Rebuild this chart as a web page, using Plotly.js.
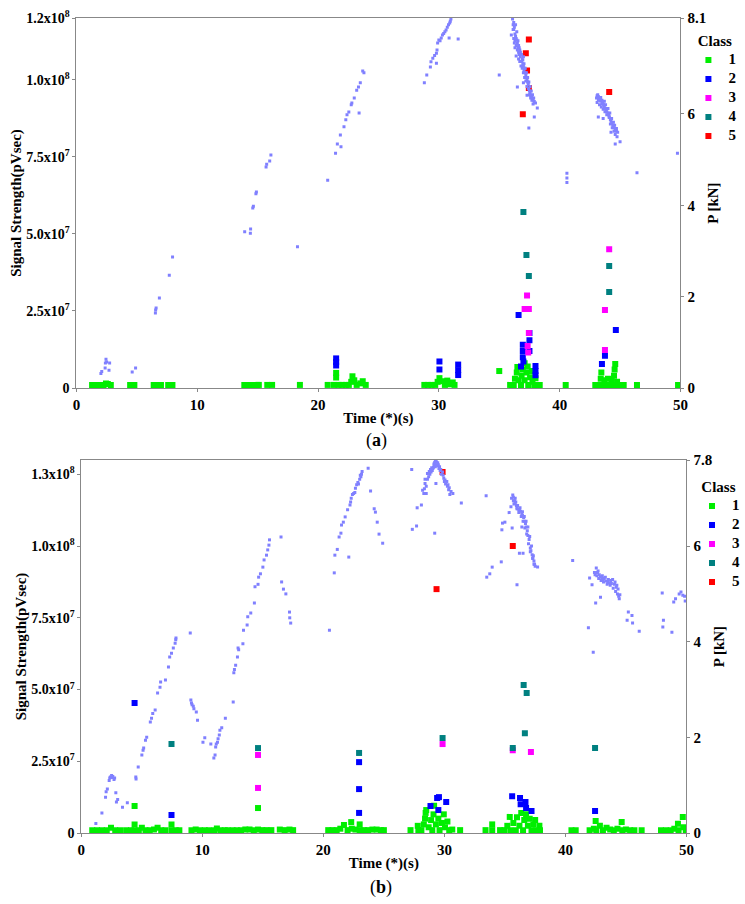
<!DOCTYPE html>
<html>
<head>
<meta charset="utf-8">
<script src="https://cdn.plot.ly/plotly-3.0.1.min.js"></script>
<style>html,body{margin:0;padding:0;background:#fff;}#chart{width:745px;height:904px;}</style>
</head>
<body>
<div id="chart"></div>
<script>
// ---------- Panel (a) ----------
const aLoadT = [2.03,2.1,2.38,2.4,2.45,2.5,2.7,2.75,4.62,4.9,6.54,6.56,6.6,6.87,7.69,7.96,13.93,14.4,14.42,14.6,14.65,14.86,14.9,15.7,15.75,16.0,16.1,18.3,20.8,
 21.45,21.6,21.85,21.9,22.15,22.3,22.4,22.55,22.75,22.8,23.0,23.2,23.35,23.4,23.5,23.7,23.8,
 28.8,29.0,29.3,29.35,29.5,29.65,29.8,29.8,29.85,29.9,30.0,30.1,30.2,30.3,30.4,30.5,30.6,30.7,30.8,30.85,30.9,30.95,31.0,31.6,
 35.0,36.0,36.1,36.15,36.2,36.2,36.25,36.3,36.3,36.35,36.4,36.4,36.45,36.5,36.5,36.55,36.6,36.6,36.65,36.7,36.75,36.8,36.85,36.9,36.95,37.0,37.0,37.05,37.1,37.15,37.2,37.25,37.3,37.35,37.4,37.45,37.5,37.55,37.6,37.7,37.75,37.8,37.9,38.0,38.15,36.5,37.0,37.3,37.45,37.9,
 36.15,36.2,36.25,36.3,36.35,36.4,36.45,36.55,36.6,36.65,36.7,36.75,36.8,36.85,36.9,36.95,37.0,37.05,37.1,37.15,37.2,37.25,37.3,37.35,37.4,37.45,37.5,37.55,37.6,37.65,37.7,37.75,37.8,37.85,
 40.6,40.6,40.6,
 43.05,43.1,43.2,43.25,43.3,43.35,43.4,43.5,43.55,43.6,43.65,43.7,43.8,43.85,43.9,44.0,44.05,44.1,44.2,44.25,44.3,44.4,44.45,44.5,44.6,44.65,44.7,44.8,43.2,43.6,44.25,44.6,45.0,
 43.1,43.15,43.2,43.3,43.4,43.45,43.5,43.6,43.7,43.75,43.8,43.9,44.0,44.1,44.15,44.2,44.3,44.35,44.45,44.5,44.55,44.6,44.7,44.75,
 46.4,49.75];
const aLoadP = [0.32,0.36,0.44,0.55,0.63,0.57,0.39,0.55,0.35,0.44,1.64,1.71,1.75,1.97,2.47,2.87,3.42,3.39,3.48,3.94,3.98,4.25,4.29,4.84,4.9,4.97,5.1,3.09,4.55,
 5.14,5.34,5.54,5.28,5.72,5.87,5.98,6.04,6.2,6.24,6.35,6.52,6.59,6.02,6.68,6.94,6.9,
 6.68,6.85,7.03,7.14,7.22,7.28,7.11,7.33,7.4,7.55,7.62,7.6,7.66,7.73,7.76,7.8,7.84,7.9,7.95,7.66,7.99,8.03,8.08,7.64,
 6.85,7.73,8.08,7.95,8.0,7.85,7.9,7.75,7.6,7.7,7.5,7.27,7.62,7.4,7.55,7.45,7.35,7.5,7.3,7.4,7.25,7.3,7.15,7.2,7.1,7.25,7.05,6.95,7.0,6.9,6.85,6.8,6.75,6.7,6.65,6.55,6.5,6.45,6.4,6.38,6.33,6.3,6.27,6.24,6.13,6.59,6.68,6.41,5.69,5.93,
 7.85,7.65,7.55,7.45,7.95,7.65,7.8,7.6,7.2,7.45,7.15,7.35,7.05,7.3,7.0,7.18,6.9,7.1,6.8,7.0,6.72,6.9,6.6,6.8,6.55,6.7,6.42,6.6,6.35,6.5,6.3,6.42,6.22,6.35,
 4.5,4.6,4.7,
 6.35,6.4,6.38,6.33,6.35,6.3,6.28,6.3,6.25,6.22,6.2,6.15,6.12,6.08,6.05,6.02,5.98,5.95,5.88,5.85,5.8,5.76,5.73,5.7,5.68,5.65,5.62,5.6,5.93,5.9,5.6,5.34,5.39,
 6.25,6.42,6.3,6.2,6.36,6.15,6.22,6.1,6.28,6.05,6.2,5.98,6.12,5.92,6.02,5.78,5.9,5.7,5.82,5.62,5.75,5.55,5.68,5.5,
 4.71,5.14];

const aC1T = [1.3,1.55,1.95,2.25,2.45,2.6,2.85,4.45,4.8,6.4,6.75,7.0,7.6,7.95,13.9,14.25,14.6,14.95,15.1,15.8,16.2,18.5,20.8,
 21.3,21.5,21.5,21.7,22.0,22.3,22.55,22.75,22.85,23.0,23.2,23.5,23.7,23.95,
 28.8,29.1,29.4,29.7,29.9,30.05,30.3,30.5,30.7,30.9,31.15,31.3,35.0,
 35.9,36.2,36.3,36.45,36.5,36.6,36.8,36.85,36.95,37.1,37.1,37.25,37.35,37.4,37.55,37.7,37.75,37.9,38.0,38.2,38.35,40.5,
 42.95,43.25,43.4,43.45,43.5,43.7,43.8,44.0,44.05,44.3,44.35,44.5,44.55,44.6,44.75,44.8,45.1,45.3,46.4,49.8];
const aC1S = [1e6,1e6,1e6,1e6,1.5e6,1.3e6,1e6,1e6,1e6,1e6,1e6,1e6,1e6,1e6,1e6,1e6,1e6,1e6,1e6,1e6,1e6,1e6,1e6,
 1e6,3.4e6,4.9e6,1e6,1e6,1e6,1e6,2e6,3.8e6,2.5e6,1e6,1.5e6,2.2e6,1e6,
 1e6,1e6,1e6,1e6,2e6,3.2e6,2.2e6,1e6,2.4e6,1.2e6,1.8e6,1e6,5.5e6,
 1e6,1e6,3e6,5e6,6.8e6,2.5e6,1e6,4e6,6e6,8e6,2.5e6,5e6,7e6,1e6,3.5e6,5.5e6,2e6,1e6,3.2e6,1e6,1e6,1e6,
 1e6,1e6,3e6,5e6,1e6,2.5e6,1e6,3e6,1e6,2.5e6,1e6,4e6,6e6,7.8e6,2e6,1e6,1e6,1e6,1e6,1e6];
const aC2T = [21.5,21.5,21.5,30.05,30.05,31.6,31.6,31.6,36.6,36.95,36.95,36.95,37.0,36.8,37.5,37.5,37.5,38.0,38.0,38.0,43.5,43.75,44.65];
const aC2S = [9.6e6,8.4e6,7.3e6,8.6e6,6.0e6,7.6e6,5.8e6,4.2e6,2.37e7,1.4e7,1.2e7,1.0e7,8.6e6,7.0e6,1.78e7,1.55e7,1.2e7,7.1e6,5.5e6,4.1e6,7.8e6,1.05e7,1.88e7];
const aC3T = [37.3,37.1,37.45,37.45,37.35,37.4,44.1,43.75,43.75];
const aC3S = [3.0e7,2.56e7,2.56e7,1.78e7,1.36e7,1.15e7,4.5e7,2.53e7,1.23e7];
const aC4T = [37.0,37.25,37.45,44.1,44.1];
const aC4S = [5.71e7,4.31e7,3.63e7,3.96e7,3.11e7];
const aC5T = [37.45,37.2,37.3,37.45,36.95,44.1];
const aC5S = [1.13e8,1.086e8,1.03e8,9.73e7,8.88e7,9.6e7];

// ---------- Panel (b) ----------
const bLoadT = [1.2,1.7,2.0,2.05,2.15,2.3,2.35,2.4,2.5,2.55,2.6,2.7,2.75,2.85,2.9,3.0,3.4,3.8,
 4.5,4.52,4.7,5.0,5.1,5.15,5.3,5.4,5.7,5.8,5.9,6.1,6.3,6.5,6.55,6.95,7.2,7.3,7.45,7.6,7.75,7.8,7.82,
 9.0,9.05,9.1,9.15,9.25,9.3,9.5,9.6,10.05,10.2,10.7,10.95,11.05,11.1,11.15,11.25,11.3,11.4,11.45,11.6,11.9,
 12.55,12.6,12.65,12.75,12.9,12.95,13.0,13.35,13.4,13.7,13.75,14.0,14.3,14.35,14.6,14.65,14.8,15.0,15.1,15.3,15.4,15.5,15.55,
 16.5,16.55,16.7,16.9,17.2,17.22,17.3,
 20.5,20.9,20.95,21.15,21.3,21.45,21.5,21.65,21.8,22.0,22.2,22.3,22.5,22.65,22.9,23.0,23.15,23.2,23.7,23.9,24.2,24.3,24.45,24.6,24.9,
 22.1,22.25,22.4,22.6,22.75,22.85,23.05,23.1,
 27.3,27.35,27.7,27.75,28.1,28.3,28.4,28.4,28.5,28.6,28.75,28.85,28.95,29.1,29.15,29.2,29.25,29.3,29.35,29.45,29.5,29.6,29.7,29.85,29.95,30.05,30.2,30.3,30.4,30.55,30.7,31.4,29.2,29.3,
 28.2,28.35,28.5,28.6,28.7,28.8,28.9,29.0,29.05,29.15,29.25,29.35,29.45,29.55,29.65,29.75,29.9,30.0,30.1,30.25,30.35,30.45,
 33.45,33.5,33.75,33.95,34.7,34.75,34.8,35.0,35.35,35.5,35.55,35.65,35.7,35.8,35.85,35.95,36.0,36.1,36.2,36.3,36.4,36.45,36.55,36.6,36.7,36.75,36.85,36.9,37.0,37.1,37.15,37.25,37.3,37.4,37.45,37.5,37.7,36.0,36.4,36.5,36.2,
 35.6,35.7,35.75,35.85,35.9,36.0,36.05,36.15,36.25,36.35,36.45,36.5,36.6,36.65,36.75,36.8,36.9,36.95,37.05,37.1,37.2,37.3,37.35,37.4,
 40.6,41.9,42.0,42.2,42.45,42.55,42.7,42.8,42.9,43.0,43.1,43.2,43.35,43.5,43.6,43.75,43.9,44.05,44.2,44.3,44.5,42.9,42.5,44.35,45.1,45.2,45.5,45.55,46.1,
 42.3,42.4,42.6,42.65,42.75,42.95,43.05,43.15,43.3,43.45,43.55,43.7,43.8,43.95,44.1,44.15,44.25,44.4,44.45,
 48.0,48.1,48.05,48.8,48.95,49.1,49.4,49.55,49.7,49.85,49.9];
const bLoadP = [0.2,0.42,0.75,0.86,0.92,1.1,1.15,1.17,1.2,1.16,1.18,1.12,1.15,0.84,0.65,0.7,0.54,0.63,
 1.17,1.13,1.38,1.63,1.73,1.78,1.94,2.0,2.32,2.4,2.5,2.57,2.93,3.05,3.16,3.2,3.47,3.68,3.76,3.87,3.97,4.04,4.08,4.18,
 2.78,2.72,2.68,2.65,2.6,2.53,2.36,1.9,1.99,1.86,1.57,1.63,1.8,1.86,1.9,1.97,2.05,2.15,2.2,2.4,2.74,
 3.35,3.42,3.51,3.68,3.87,3.83,3.96,4.24,4.35,4.52,4.6,4.81,5.15,5.2,5.35,5.42,5.56,5.71,5.81,5.92,6.02,6.13,6.19,
 5.25,5.1,5.0,4.62,4.5,4.39,4.24,
 5.44,5.81,5.93,6.19,6.27,6.44,6.5,6.61,6.76,6.86,7.0,7.1,7.21,7.3,7.4,7.5,7.56,7.63,7.15,6.78,6.71,6.5,6.25,6.06,5.77,
 6.92,7.08,7.12,7.28,7.33,7.48,7.45,7.6,
 6.35,6.42,6.8,6.86,7.1,7.31,7.4,7.1,7.52,7.56,7.6,7.64,7.65,7.72,7.75,7.78,7.8,7.76,7.74,7.7,7.66,7.6,7.55,7.42,7.38,7.35,7.28,7.22,7.14,7.1,6.9,6.27,7.31,7.17,
 7.2,7.25,7.4,7.45,7.5,7.55,7.58,7.62,7.7,7.66,7.7,7.68,7.62,7.58,7.5,7.48,7.35,7.3,7.25,7.18,7.08,7.05,
 5.35,5.42,5.56,5.67,6.34,6.48,6.5,6.7,6.82,7.0,7.07,7.02,6.95,6.9,6.85,6.8,6.77,6.75,6.73,6.68,6.64,6.6,6.52,6.47,6.4,6.32,6.22,6.14,5.96,5.9,5.82,5.75,5.69,5.62,5.58,5.56,5.19,6.4,5.85,5.85,6.38,
 6.95,6.88,7.0,6.92,6.78,6.85,6.7,6.8,6.62,6.72,6.52,6.62,6.38,6.52,6.25,6.4,6.05,6.2,5.88,6.0,5.74,5.8,5.62,5.7,
 4.29,5.33,5.19,5.4,5.54,5.48,5.4,5.36,5.33,5.3,5.32,5.27,5.25,5.23,5.28,5.3,5.2,5.14,5.0,4.98,4.93,4.81,5.1,4.45,4.62,4.55,4.39,4.22,3.78,
 5.45,5.38,5.45,5.32,5.28,5.38,5.25,5.35,5.2,5.3,5.18,5.22,5.12,5.25,5.05,5.18,4.95,4.9,5.02,
 4.45,4.31,4.2,4.83,4.9,5.0,5.04,4.97,4.95,4.85,4.75];

const bC1T = [0.9,1.3,1.7,2.1,2.45,2.8,3.2,3.7,4.1,4.4,4.4,4.75,5.0,5.3,5.65,6.0,6.3,6.6,6.95,7.45,7.45,7.8,8.1,
 9.1,9.45,9.8,10.2,10.55,11.0,11.2,11.5,11.85,12.1,12.5,12.85,13.2,13.55,13.9,14.25,14.6,14.6,14.95,15.3,15.7,16.4,16.8,17.2,17.5,
 20.4,20.75,21.1,21.4,21.7,22.0,22.3,22.35,22.65,23.0,23.0,23.35,23.7,24.05,24.4,24.75,25.0,27.2,27.8,27.85,
 28.1,28.3,28.4,28.45,28.5,28.7,28.9,29.0,29.1,29.15,29.3,29.5,29.6,29.8,29.95,30.05,30.25,30.4,30.65,31.3,
 33.4,33.95,33.95,34.6,34.95,35.2,35.4,35.45,35.7,35.9,36.0,36.2,36.35,36.5,36.6,36.75,36.9,37.05,37.2,37.35,37.5,37.6,37.85,37.9,
 40.5,40.85,42.0,42.35,42.5,42.55,42.85,43.1,43.4,43.7,44.0,44.3,44.65,44.7,45.0,45.35,45.7,46.3,47.9,48.3,48.7,49.0,49.3,49.35,49.7,49.75,49.95,
 4.4];
const bC1S = [1e6,1e6,1e6,1e6,1.8e6,1e6,1e6,1e6,1e6,3e6,1e6,1e6,1.8e6,1e6,1e6,1.2e6,1.8e6,1e6,1e6,3e6,1e6,1e6,1e6,
 1e6,1.2e6,1e6,1e6,1e6,1e6,1.6e6,1e6,1e6,1e6,1e6,1e6,1e6,1.2e6,1.2e6,1e6,8.7e6,1.2e6,1e6,1e6,1e6,1.2e6,1e6,1.2e6,1e6,
 1e6,1e6,1e6,1.5e6,2.8e6,1e6,3.8e6,1.5e6,1.2e6,3.0e6,1e6,1e6,1e6,1.2e6,1.2e6,1e6,1e6,1e6,2.5e6,1e6,
 1e6,3e6,5e6,7e6,8e6,2e6,4.5e6,1e6,6.5e6,9.5e6,3e6,5e6,1e6,3.5e6,6.5e6,2e6,4e6,1e6,1.2e6,1e6,
 1e6,3e6,1e6,1e6,1e6,2.5e6,5.6e6,1e6,3.5e6,1e6,5.5e6,2.5e6,7e6,1e6,4.5e6,6.5e6,2.5e6,5e6,1e6,3e6,4.5e6,1e6,2.5e6,1e6,
 1e6,1e6,1e6,1.5e6,4.2e6,1e6,2.5e6,1e6,1.8e6,1.2e6,1e6,1.5e6,3.8e6,1e6,1.2e6,1e6,1e6,1e6,1e6,1e6,1e6,1.5e6,3.2e6,1e6,5.6e6,2e6,1e6,
 9.4e6];
const bC2T = [4.4,7.45,22.95,22.95,22.95,28.85,29.4,29.55,30.15,29.5,35.6,36.25,36.3,36.7,36.75,37.2,42.45];
const bC2S = [4.53e7,6.3e6,2.47e7,1.53e7,7.0e6,9.4e6,1.22e7,1.25e7,1.08e7,8.0e6,1.28e7,1.22e7,1.0e7,1.08e7,8.7e6,7.7e6,7.7e6];
const bC3T = [14.6,14.6,29.85,35.65,37.15];
const bC3S = [2.72e7,1.57e7,3.1e7,2.88e7,2.82e7];
const bC4T = [7.45,14.6,22.95,29.85,35.65,36.55,36.8,36.65,42.45];
const bC4S = [3.1e7,2.96e7,2.79e7,3.31e7,2.96e7,5.16e7,4.88e7,3.48e7,2.96e7];
const bC5T = [29.85,29.35,35.65];
const bC5S = [1.258e8,8.5e7,1.0e8];

// ---------- Axis tick labels ----------
const aLeftVals = [0,2.5e7,5e7,7.5e7,1e8,1.2e8];
const aLeftText = ['0','2.5x10<sup>7</sup>','5.0x10<sup>7</sup>','7.5x10<sup>7</sup>','1.0x10<sup>8</sup>','1.2x10<sup>8</sup>'];
const aRightVals = [0,2,4,6,8.1];
const aRightText = ['0','2','4','6','8.1'];
const bLeftVals = [0,2.5e7,5e7,7.5e7,1e8,1.25e8];
const bLeftText = ['0','2.5x10<sup>7</sup>','5.0x10<sup>7</sup>','7.5x10<sup>7</sup>','1.0x10<sup>8</sup>','1.3x10<sup>8</sup>'];
const bRightVals = [0,2,4,6,7.8];
const bRightText = ['0','2','4','6','7.8'];
const timeTicks = [0,10,20,30,40,50];
const classNames = ['1','2','3','4','5'];
const classColors = ['#00ee00','#0000ff','#ff00ff','#008080','#ff0000'];

// ---------- Build ----------
const W = 745, H = 904;
const F = 'Liberation Serif, Times New Roman, serif';
const traces = [];
function load(x, y, xa, ya) {
  traces.push({type:'scatter', mode:'markers', x:x, y:y, xaxis:xa, yaxis:ya, showlegend:false, hoverinfo:'skip',
    marker:{symbol:'square', size:3, color:'#8080ff', line:{width:0}}});
}
function cls(x, y, i, xa, ya, leg) {
  traces.push({type:'scatter', mode:'markers', x:x, y:y, xaxis:xa, yaxis:ya,
    name:'<span style="font-size:15px">' + classNames[i] + '</span>', legend:leg, showlegend:true,
    marker:{symbol:'square', size:6, color:classColors[i], line:{width:0}}});
}
load(aLoadT, aLoadP, 'x', 'y2');
cls(aC1T, aC1S, 0, 'x', 'y', 'legend');
cls(aC2T, aC2S, 1, 'x', 'y', 'legend');
cls(aC3T, aC3S, 2, 'x', 'y', 'legend');
cls(aC4T, aC4S, 3, 'x', 'y', 'legend');
cls(aC5T, aC5S, 4, 'x', 'y', 'legend');

load(bLoadT, bLoadP, 'x2', 'y4');
cls(bC1T, bC1S, 0, 'x2', 'y3', 'legend2');
cls(bC2T, bC2S, 1, 'x2', 'y3', 'legend2');
cls(bC3T, bC3S, 2, 'x2', 'y3', 'legend2');
cls(bC4T, bC4S, 3, 'x2', 'y3', 'legend2');
cls(bC5T, bC5S, 4, 'x2', 'y3', 'legend2');

const tickFont = {family:F, size:15, color:'#000', weight:'bold'};
const yTickFont = {family:F, size:14, color:'#000', weight:'bold'};
const titleFont = {family:F, size:15, color:'#000', weight:'bold'};
const lineC = '#888888';
function xAxis(d0, d1, anchor) {
  return {domain:[d0/W, d1/W], anchor:anchor, range:[0,50], tickvals:timeTicks, ticktext:timeTicks.map(String),
    showline:true, linecolor:lineC, linewidth:1, mirror:true, ticks:'outside', ticklen:3, tickcolor:lineC,
    showgrid:false, zeroline:false, tickfont:tickFont,
    title:{text:'Time (*)(s)', font:titleFont, standoff:0}};
}
function yLeft(top, bot, anchor, rng, vals, text) {
  return {domain:[1-bot/H, 1-top/H], anchor:anchor, range:rng, tickvals:vals, ticktext:text,
    showline:true, linecolor:lineC, linewidth:1, ticks:'outside', ticklen:3, tickcolor:lineC,
    showgrid:false, zeroline:false, tickfont:yTickFont,
    title:{text:'Signal Strength(pVsec)', font:titleFont, standoff:0}};
}
function yRight(over, anchor, rng, vals, text) {
  return {overlaying:over, side:'right', anchor:anchor, range:rng, tickvals:vals, ticktext:text,
    showline:true, linecolor:lineC, linewidth:1, ticks:'outside', ticklen:3, tickcolor:lineC,
    showgrid:false, zeroline:false, tickfont:tickFont,
    title:{text:'P [kN]', font:titleFont, standoff:2}};
}
const legFont = {family:F, size:11, color:'#000', weight:'bold'};
const legTitleFont = {family:F, size:15, color:'#000', weight:'bold'};
const layout = {
  width:W, height:H, margin:{l:0,r:0,t:0,b:0}, paper_bgcolor:'#fff', plot_bgcolor:'#fff',
  xaxis: xAxis(77, 686, 'y'),
  yaxis: yLeft(18, 388, 'x', [0,1.2e8], aLeftVals, aLeftText),
  yaxis2: yRight('y', 'x', [0,8.1], aRightVals, aRightText),
  xaxis2: xAxis(82, 692, 'y3'),
  yaxis3: yLeft(460, 833, 'x2', [0,1.3e8], bLeftVals, bLeftText),
  yaxis4: yRight('y3', 'x2', [0,7.8], bRightVals, bRightText),
  legend: {x:694/W, y:1-26/H, xanchor:'left', yanchor:'top', bgcolor:'rgba(0,0,0,0)', font:legFont,
    title:{text:'Class', font:legTitleFont, side:'top center'}, itemwidth:30, tracegroupgap:0},
  legend2: {x:698/W, y:1-472/H, xanchor:'left', yanchor:'top', bgcolor:'rgba(0,0,0,0)', font:legFont,
    title:{text:'Class', font:legTitleFont, side:'top center'}, itemwidth:30, tracegroupgap:0},
  annotations:[
    {xref:'paper', yref:'paper', x:380/W, y:1-440/H, xanchor:'center', yanchor:'middle', text:'(<b>a</b>)', showarrow:false, font:{family:F, size:18, color:'#000'}},
    {xref:'paper', yref:'paper', x:384/W, y:1-887/H, xanchor:'center', yanchor:'middle', text:'(<b>b</b>)', showarrow:false, font:{family:F, size:18, color:'#000'}}
  ]
};
Plotly.newPlot('chart', traces, layout, {staticPlot:true, displayModeBar:false});
</script>
</body>
</html>
